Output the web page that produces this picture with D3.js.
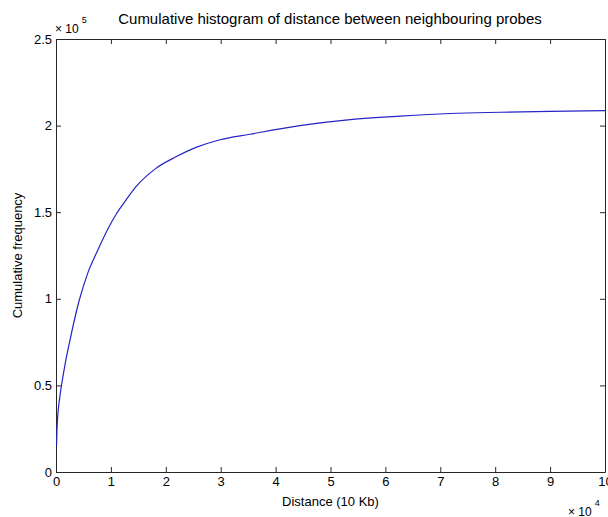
<!DOCTYPE html>
<html lang="en">
<head>
    <meta charset="UTF-8">
    <title>Cumulative histogram</title>
    <style>
        body { margin: 0; background: #fff; }
        svg { display: block; font-family: "Liberation Sans", Arial, sans-serif; }
    </style>
</head>
<body>
    <script src="https://d3js.org/d3.v7.min.js"></script>
    <script>
        // Distance in units of 1e4, cumulative frequency in units of 1e5
        const distance = [0.01, 0.02, 0.07, 0.10, 0.17, 0.255, 0.425, 0.577, 0.76, 0.94,
            1.09, 1.275, 1.457, 1.82, 2.186, 2.55, 2.97, 3.53, 4.44, 5.36,
            6.27, 7.18, 8.09, 9.00, 10.0];
        const frequency = [0.15, 0.26, 0.435, 0.50, 0.63, 0.762, 0.993, 1.147, 1.28, 1.40,
            1.485, 1.57, 1.647, 1.753, 1.82, 1.874, 1.917, 1.95, 2.00, 2.035,
            2.055, 2.07, 2.077, 2.082, 2.086];
        const xTicks = [0, 1, 2, 3, 4, 5, 6, 7, 8, 9, 10];
        const yTicks = [0, 0.5, 1, 1.5, 2, 2.5];

        const W = 608, H = 517;
        const margin = {top: 39, right: 3, bottom: 45, left: 56};
        const width = W - margin.left - margin.right,
            height = H - margin.top - margin.bottom;
        const axisColor = "#262626";

        const svg = d3.select("body").append("svg")
            .attr("width", W)
            .attr("height", H);
        const g = svg.append("g")
            .attr("transform", "translate(" + margin.left + "," + margin.top + ")");

        const x = d3.scaleLinear().domain([0, 10]).range([0, width]);
        const y = d3.scaleLinear().domain([0, 2.5]).range([height, 0]);

        // axes with inward ticks on all four sides
        const fmt = d => String(d);
        const axes = [
            [d3.axisBottom(x).tickValues(xTicks).tickFormat(fmt), "translate(0," + height + ")", true],
            [d3.axisTop(x).tickValues(xTicks).tickFormat(""), "translate(0,0)", false],
            [d3.axisLeft(y).tickValues(yTicks).tickFormat(fmt), "translate(0,0)", true],
            [d3.axisRight(y).tickValues(yTicks).tickFormat(""), "translate(" + width + ",0)", false]
        ];
        axes.forEach(function(a, i) {
            const ax = a[0].tickSizeInner(-5).tickSizeOuter(0).tickPadding(i === 2 ? 4 : 5);
            const sel = g.append("g").attr("transform", a[1]).call(ax);
            sel.select(".domain").attr("stroke", axisColor);
            sel.selectAll(".tick line").attr("stroke", axisColor);
            sel.selectAll(".tick text")
                .attr("fill", "#000")
                .style("font-size", "13px");
        });

        // curve
        const pts = distance.map((d, i) => [d, frequency[i]]);
        g.append("path")
            .datum(pts)
            .attr("fill", "none")
            .attr("stroke", "#2424c8")
            .attr("stroke-width", 1.2)
            .attr("d", d3.line().x(d => x(d[0])).y(d => y(d[1])).curve(d3.curveMonotoneX));

        // title
        svg.append("text")
            .attr("x", 330).attr("y", 24)
            .attr("text-anchor", "middle")
            .style("font-size", "15px")
            .text("Cumulative histogram of distance between neighbouring probes");

        // exponents
        const ey = svg.append("text").attr("x", 55).attr("y", 33).style("font-size", "12px");
        ey.append("tspan").text("\u00d7 10");
        ey.append("tspan").attr("dy", -10).attr("dx", 3).style("font-size", "9px").text("5");

        const ex = svg.append("text").attr("x", 568).attr("y", 516).style("font-size", "12px");
        ex.append("tspan").text("\u00d7 10");
        ex.append("tspan").attr("dy", -10).attr("dx", 3).style("font-size", "9px").text("4");

        // axis labels
        svg.append("text")
            .attr("x", margin.left + width / 2).attr("y", 506)
            .attr("text-anchor", "middle")
            .style("font-size", "13px")
            .text("Distance (10 Kb)");
        svg.append("text")
            .attr("transform", "translate(22," + (margin.top + height / 2) + ") rotate(-90)")
            .attr("text-anchor", "middle")
            .style("font-size", "13px")
            .text("Cumulative frequency");
    </script>
</body>
</html>
